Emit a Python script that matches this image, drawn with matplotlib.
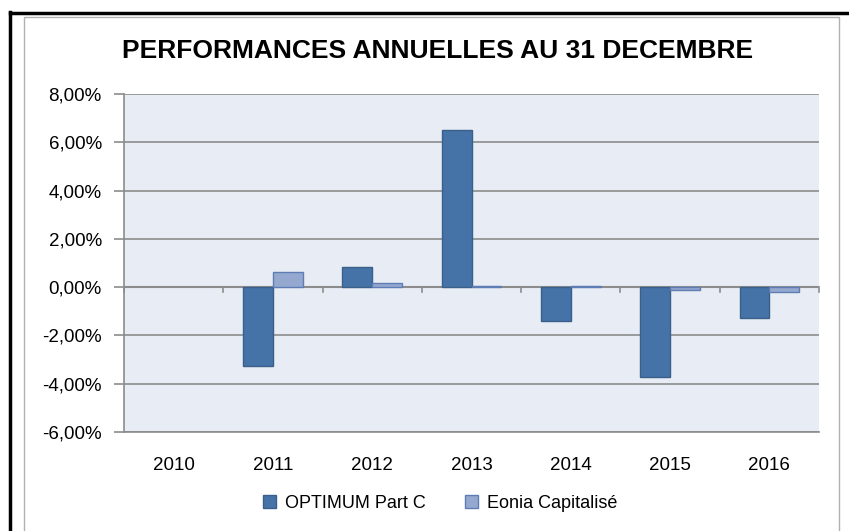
import matplotlib.pyplot as plt
import numpy as np
from matplotlib.lines import Line2D
from matplotlib.patches import Rectangle
from matplotlib.ticker import FuncFormatter

years = ['2010', '2011', '2012', '2013', '2014', '2015', '2016']
optimum = [np.nan, -3.25, 0.84, 6.51, -1.41, -3.71, -1.29]
eonia = [np.nan, 0.64, 0.19, 0.06, 0.05, -0.12, -0.2]

W, H = 849, 531
fig = plt.figure(figsize=(W / 100, H / 100), dpi=100)
plt.rcParams['font.family'] = ['Liberation Sans', 'DejaVu Sans']

# frame around the chart (spreadsheet borders)
fig.add_artist(Line2D([10 / W, 10 / W], [0, 1 - 12 / H], color='black', lw=2.5))
fig.add_artist(Line2D([10 / W, 1], [1 - 13 / H, 1 - 13 / H], color='black', lw=2.5))
fig.add_artist(Rectangle((24 / W, -0.05), (839 - 24) / W, 1.05 - 17 / H,
                         fill=False, edgecolor='#B0B0B0', lw=1.0))

left, right, top, bottom = 124, 819, 94, 432
ax = fig.add_axes([left / W, 1 - bottom / H, (right - left) / W, (bottom - top) / H])
ax.set_facecolor('#E8ECF4')

x = np.arange(len(years))
w = 0.3
ax.bar(x - w / 2, optimum, w, color='#4572A7', edgecolor='#3A5F8B', lw=1,
       label='OPTIMUM Part C', zorder=3)
ax.bar(x + w / 2, eonia, w, color='#95A9D0', edgecolor='#5E7DB5', lw=1,
       label='Eonia Capitalisé', zorder=3)

ax.set_xlim(-0.5, len(years) - 0.5)
ax.set_ylim(-6, 8)
ax.set_yticks(np.arange(-6, 9, 2))
ax.yaxis.set_major_formatter(FuncFormatter(lambda v, p: f'{v:.2f}%'.replace('.', ',')))
ax.grid(axis='y', color='#8C8C8C', lw=1.2, zorder=1)
ax.tick_params(axis='y', length=7, color='#8C8C8C', width=1.2, labelsize=13.5, pad=9)

# category axis at zero
ax.axhline(0, color='#8C8C8C', lw=1.5, zorder=2)
for b in np.arange(-0.5, len(years), 1):
    ax.plot([b, b], [0, -0.22], color='#8C8C8C', lw=1.2, zorder=2, clip_on=False)
ax.set_xticks(x)
ax.set_xticklabels(years)
ax.tick_params(axis='x', length=0, labelsize=13.5, pad=18)

for s in ['top', 'right']:
    ax.spines[s].set_visible(False)
for s in ['left', 'bottom']:
    ax.spines[s].set_color('#8C8C8C')
    ax.spines[s].set_linewidth(1.2)

fig.text(438 / W, 1 - 51 / H, 'PERFORMANCES ANNUELLES AU 31 DECEMBRE',
         ha='center', va='center', fontsize=19, fontweight='bold')

fig.legend(loc='center', bbox_to_anchor=(440 / W, 1 - 503 / H), ncol=2,
           frameon=False, fontsize=13, handlelength=0.7, handleheight=0.7,
           columnspacing=2.2, handletextpad=0.5)

fig.savefig('out.png', dpi=100)
